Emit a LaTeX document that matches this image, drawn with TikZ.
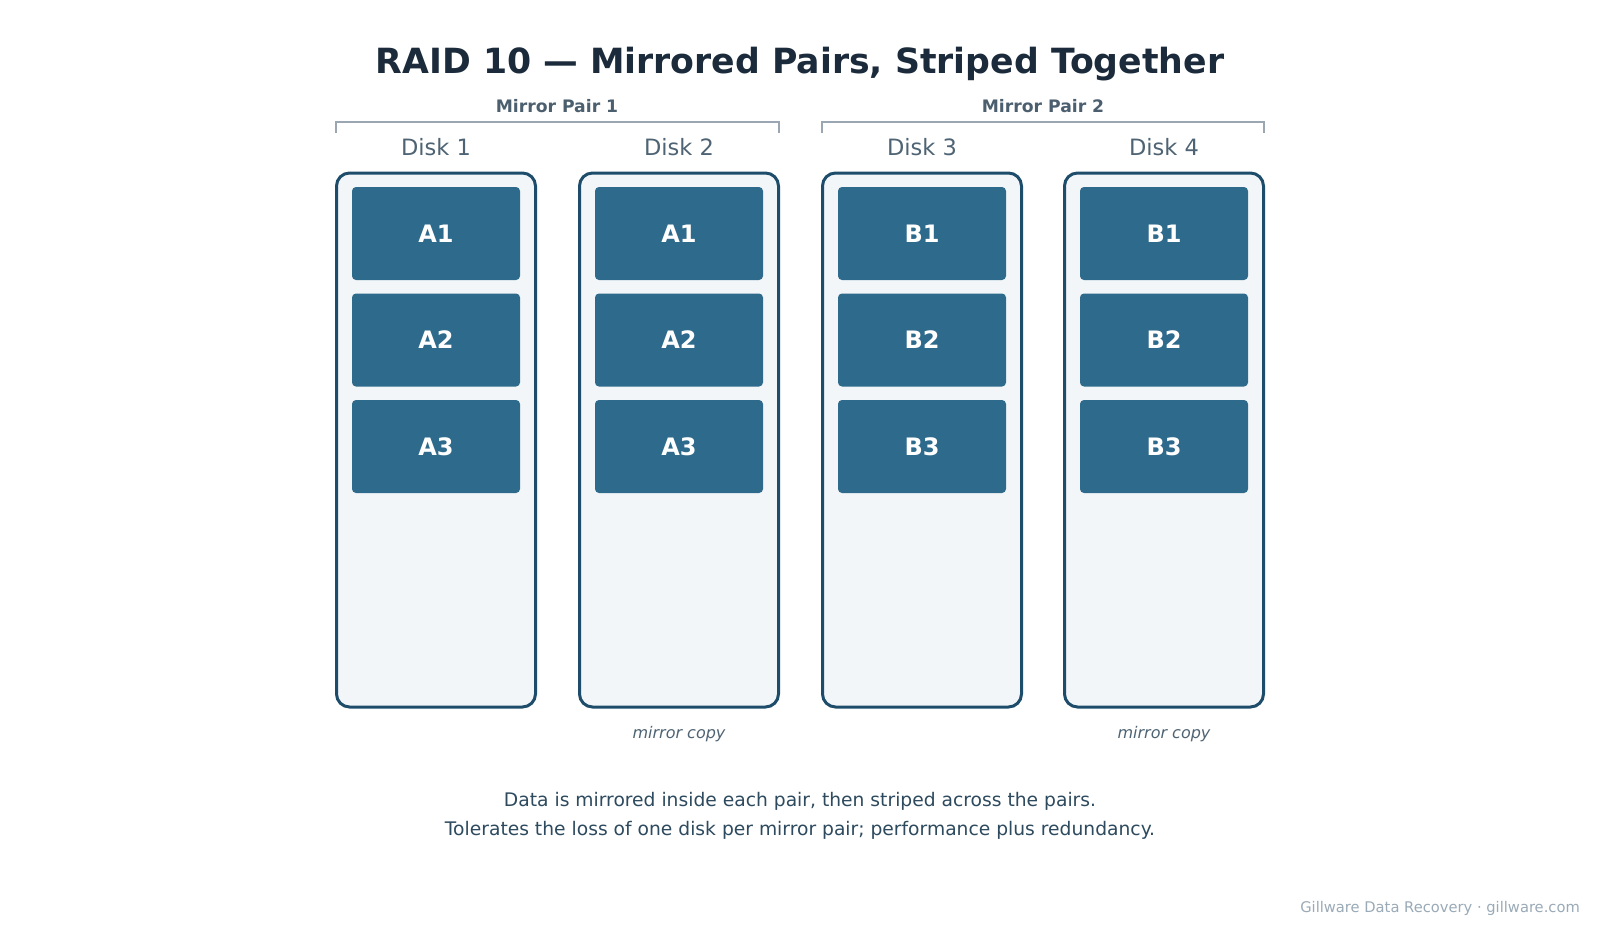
\documentclass[tikz,border=0pt]{standalone}
\usepackage{fontspec}
\setmainfont{DejaVu Sans}
\definecolor{titlec}{HTML}{1B2B3B}
\definecolor{diskline}{HTML}{1E4D6B}
\definecolor{diskfill}{HTML}{F2F6F9}
\definecolor{blockc}{HTML}{2E6A8B}
\definecolor{labelc}{HTML}{4E6373}
\definecolor{pairc}{HTML}{4B5F6F}
\definecolor{bracketc}{HTML}{9AA6B2}
\definecolor{capc}{HTML}{2D4A5E}
\definecolor{footc}{HTML}{9AAAB7}
\begin{document}
\begin{tikzpicture}[x=1pt,y=-1pt,
  disk/.style={draw=diskline,line width=3pt,fill=diskfill,rounded corners=13pt,minimum width=199pt,minimum height=534pt,inner sep=0pt},
  blk/.style={fill=blockc,rounded corners=4pt,minimum width=168pt,minimum height=93pt,inner sep=0pt,text=white,font=\fontsize{24}{27}\selectfont\bfseries},
  disklabel/.style={anchor=base,text=labelc,font=\fontsize{22.5}{26}\selectfont,inner sep=0pt},
  pairlabel/.style={anchor=base,text=pairc,font=\fontsize{17.2}{20}\selectfont\bfseries,inner sep=0pt},
  bracket/.style={draw=bracketc,line width=2pt},
  mirrorlabel/.style={anchor=base,text=labelc,font=\fontsize{16}{19}\selectfont\itshape,inner sep=0pt},
  caption/.style={anchor=base,text=capc,font=\fontsize{18.7}{22}\selectfont,inner sep=0pt}]
\useasboundingbox[fill=white] (0,0) rectangle (1600,934);
\node[anchor=base,text=titlec,font=\fontsize{34.7}{40}\selectfont\bfseries,inner sep=0pt] (title) at (800,73.5) {RAID 10 — Mirrored Pairs, Striped Together};
% brackets
\coordinate (b1a) at (336,133); \coordinate (b1b) at (336,122);
\coordinate (b1c) at (779,122); \coordinate (b1d) at (779,133);
\coordinate (b2a) at (822,133); \coordinate (b2b) at (822,122);
\coordinate (b2c) at (1264,122); \coordinate (b2d) at (1264,133);
\draw[bracket] (b1a) -- (b1b) -- (b1c) -- (b1d);
\draw[bracket] (b2a) -- (b2b) -- (b2c) -- (b2d);
\node[pairlabel] (p1) at (557,112) {Mirror Pair 1};
\node[pairlabel] (p2) at (1043,112) {Mirror Pair 2};
% disks
\foreach \i/\x/\l in {1/436/A,2/679/A,3/922/B,4/1164/B}{
  \node[disklabel] (dl\i) at (\x,155) {Disk \i};
  \node[disk] (d\i) at (\x,440) {};
  \node[blk] (b\i a) at (\x,233.5) {\l1};
  \node[blk] (b\i b) at (\x,340) {\l2};
  \node[blk] (b\i c) at (\x,446.5) {\l3};
}
\node[mirrorlabel] (m2) at (679,738) {mirror copy};
\node[mirrorlabel] (m4) at (1164,738) {mirror copy};
\node[caption] (c1) at (800,806) {Data is mirrored inside each pair, then striped across the pairs.};
\node[caption] (c2) at (800,835) {Tolerates the loss of one disk per mirror pair; performance plus redundancy.};
\node[anchor=base east,text=footc,font=\fontsize{14.7}{17}\selectfont,inner sep=0pt] (foot) at (1580,912) {Gillware Data Recovery · gillware.com};
\end{tikzpicture}
\end{document}
